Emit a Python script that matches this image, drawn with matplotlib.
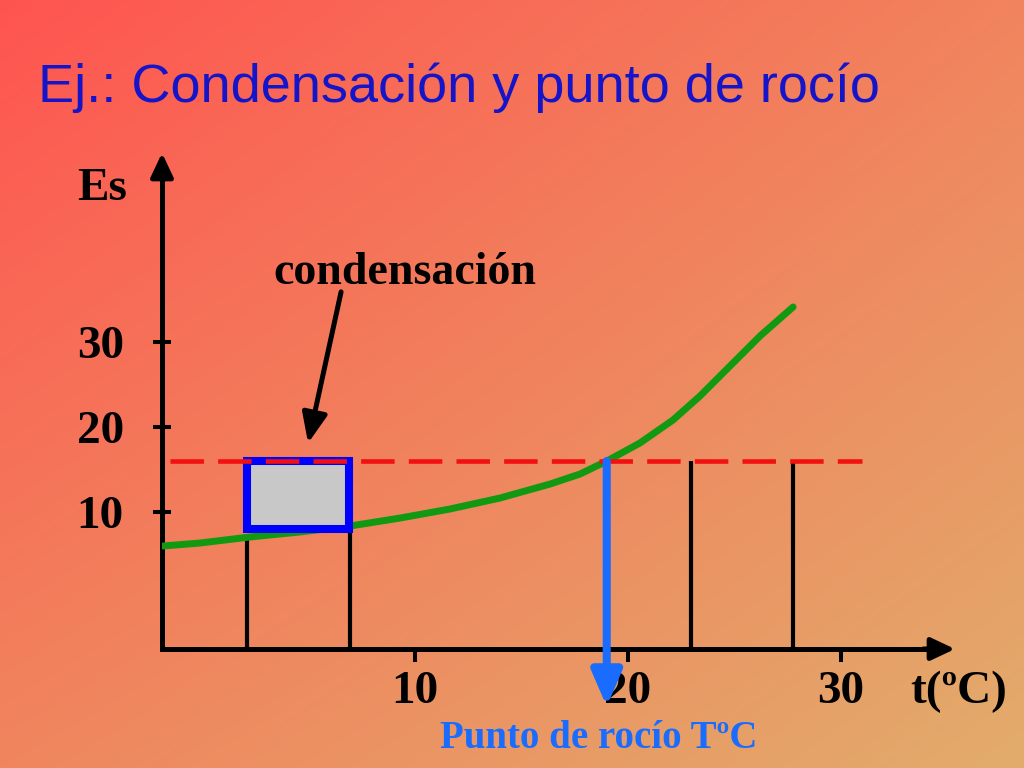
import matplotlib
matplotlib.use('Agg')
import matplotlib.pyplot as plt
import numpy as np
from matplotlib.patches import Rectangle, FancyArrowPatch

# ---------------- data ----------------
curve_t = [-1.83, -0.09, 2.25, 4.60, 6.95, 9.30, 11.64, 14.00, 16.34, 17.75,
           19.01, 20.56, 22.11, 23.38, 24.79, 26.20, 27.75]
curve_es = [6.00, 6.35, 7.06, 7.65, 8.35, 9.29, 10.35, 11.65, 13.29, 14.47,
            16.00, 18.12, 20.82, 23.65, 27.18, 30.71, 34.12]
dew_es = 16.0            # horizontal dashed level
dew_t = 19.0             # dew point temperature
dash_t = [-1.5, 31.0]    # extent of dashed line
box_t = [2.13, 6.92]     # condensation box (t range)
box_es = [8.0, 16.05]    # condensation box (Es range)
drop_t = [2.1, 6.95, 22.95, 27.75]
drop_top = [7.06, 8.0, 16.0, 16.0]
arrow_tail = (6.53, 35.9)
arrow_tip = (4.98, 18.1)
dew_arrow_end = -12.9
x_ticks = [10, 20, 30]
y_ticks = [10, 20, 30]
x_tick_labels = ['10', '20', '30']
y_tick_labels = ['10', '20', '30']
title = 'Ej.: Condensación y punto de rocío'
xlabel = 't(ºC)'
ylabel = 'Es'
note_cond = 'condensación'
note_dew = 'Punto de rocío TºC'

plt.rcParams['font.family'] = ['Liberation Serif', 'DejaVu Serif']
plt.rcParams['font.weight'] = 'bold'

W, H = 1024, 768
fig = plt.figure(figsize=(W / 100, H / 100), dpi=100)

# background gradient
bg = fig.add_axes([0, 0, 1, 1])
bg.axis('off')
tl = np.array([255, 84, 80]) / 255
tr = np.array([241, 132, 94]) / 255
bl = np.array([240, 134, 94]) / 255
br = np.array([226, 172, 108]) / 255
u = np.linspace(0, 1, W)[None, :, None]
v = np.linspace(0, 1, H)[:, None, None]
img = (1 - v) * ((1 - u) * tl + u * tr) + v * ((1 - u) * bl + u * br)
bg.imshow(img, aspect='auto', extent=[0, 1, 0, 1], zorder=0)
bg.set_xlim(0, 1); bg.set_ylim(0, 1)

# main axes
x0, x1, y0, y1 = 162, 955, 649, 153
ax = fig.add_axes([x0 / W, (H - y0) / H, (x1 - x0) / W, (y0 - y1) / H])
ax.patch.set_visible(False)
xlim = (-1.878, 35.35)
ylim = (-6.118, 52.235)
ax.set_xlim(*xlim)
ax.set_ylim(*ylim)
for s in ['top', 'right']:
    ax.spines[s].set_visible(False)
for s in ['left', 'bottom']:
    ax.spines[s].set_linewidth(3.6)
    ax.spines[s].set_color('black')
    ax.spines[s].set_capstyle('projecting')
ax.spines['left'].set_bounds(ylim[0], 50.5)
ax.spines['bottom'].set_bounds(xlim[0], 34.6)

# axis arrowheads
for xy, xyt in [((0, 1), (0, 0.96)), ((1, 0), (0.96, 0))]:
    ax.annotate('', xy=xy, xytext=xyt, xycoords='axes fraction',
                arrowprops=dict(arrowstyle='-|>,head_length=0.72,head_width=0.34',
                                mutation_scale=20, color='black', lw=3.6,
                                shrinkA=0, shrinkB=0))

ax.set_xticks(x_ticks, labels=x_tick_labels)
ax.set_yticks(y_ticks, labels=y_tick_labels)
ax.tick_params(axis='x', direction='out', length=9.5, width=2.9, pad=6,
               labelsize=34, colors='black')
ax.tick_params(axis='y', direction='inout', length=13, width=2.9, pad=21,
               labelsize=34, colors='black')

ax.set_ylabel(ylabel, rotation=0, fontsize=34, fontweight='bold',
              ha='center', va='center')
ax.yaxis.set_label_coords(-0.0757, 0.927)
ax.set_xlabel(xlabel, fontsize=34, fontweight='bold', ha='center', va='center')
ax.xaxis.set_label_coords(1.005, -0.086)

# vertical drop lines
ax.vlines(drop_t, ylim[0], drop_top, colors='black', lw=3.0, zorder=2)

# saturation curve
ax.plot(curve_t, curve_es, color='#119911', lw=5.0, solid_capstyle='round',
        solid_joinstyle='round', zorder=3)

# condensation box
ax.add_patch(Rectangle((box_t[0], box_es[0]), box_t[1] - box_t[0],
                       box_es[1] - box_es[0], facecolor='#c8c8c8',
                       edgecolor='#0000ff', lw=5.8, zorder=4))

# dashed level
ax.plot(dash_t, [dew_es, dew_es], color='#f21010', lw=3.3,
        dashes=(7.3, 3.1), zorder=5)

# dew point arrow
ax.add_patch(FancyArrowPatch((dew_t, dew_es), (dew_t, dew_arrow_end),
                             arrowstyle='-|>,head_length=1.05,head_width=0.45',
                             mutation_scale=20, color='#1a6cff', lw=5.8,
                             shrinkA=0, shrinkB=0, clip_on=False, zorder=6))

# condensation arrow
ax.add_patch(FancyArrowPatch(arrow_tail, arrow_tip,
                             arrowstyle='-|>,head_length=0.9,head_width=0.38',
                             mutation_scale=20, color='black', lw=3.6,
                             shrinkA=0, shrinkB=0, clip_on=False, zorder=6))

ax.text(9.53, 38.1, note_cond, ha='center', va='center', fontsize=33,
        fontweight='bold', color='black')
ax.text(18.64, -16.6, note_dew, ha='center', va='center', fontsize=28,
        fontweight='bold', color='#1a6cff')

fig.text(38 / W, 1 - 88 / H, title, family=['Liberation Sans', 'DejaVu Sans'],
         fontsize=39, fontweight='normal', color='#1414c8', ha='left',
         va='center')

fig.savefig('out.png', dpi=100)
